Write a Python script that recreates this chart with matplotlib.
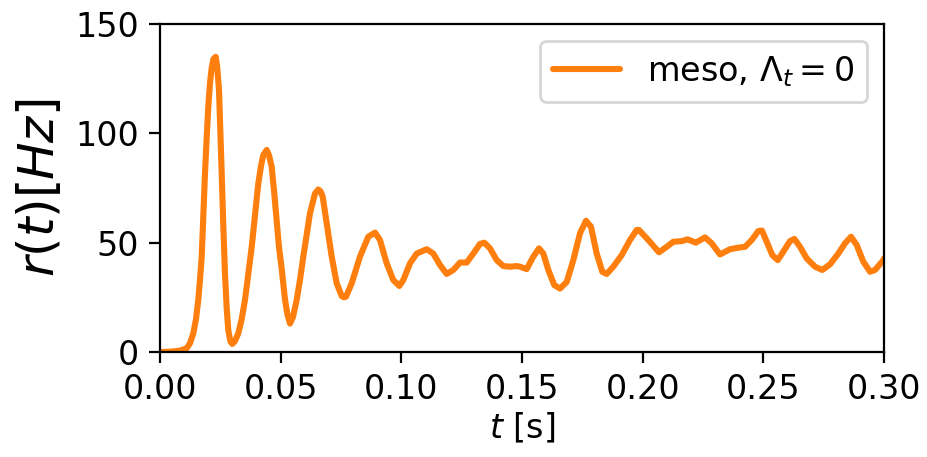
import numpy as np
import matplotlib
matplotlib.use('Agg')
import matplotlib.pyplot as plt

# population rate of the mesoscopic model, Lambda_t = 0
t = [0.0, 0.00414, 0.00829, 0.01106, 0.01243, 0.0138, 0.01492, 0.01587, 0.01657, 0.01728,
     0.01794, 0.01865, 0.01935, 0.02001, 0.02072, 0.02142, 0.02217, 0.02308, 0.02374, 0.02445,
     0.02499, 0.02557, 0.02623, 0.02693, 0.02764, 0.0283, 0.02913, 0.02996, 0.03108, 0.03244,
     0.03385, 0.03522, 0.038, 0.04073, 0.04185, 0.0428, 0.04421, 0.04517, 0.04628, 0.04724,
     0.04836, 0.04931, 0.05043, 0.0518, 0.05283, 0.05387, 0.05511, 0.05664, 0.05801, 0.05938,
     0.06215, 0.06423, 0.0656, 0.06651, 0.06742, 0.06908, 0.07115, 0.07322, 0.07529, 0.07624,
     0.07707, 0.07943, 0.08287, 0.08631, 0.08909, 0.09116, 0.09394, 0.09667, 0.09916, 0.10082,
     0.10359, 0.10637, 0.11051, 0.11325, 0.11602, 0.1188, 0.12153, 0.12431, 0.12708, 0.12982,
     0.1326, 0.13438, 0.13674, 0.13952, 0.14225, 0.14503, 0.1478, 0.14917, 0.15195, 0.15468,
     0.15705, 0.15883, 0.1609, 0.16338, 0.16575, 0.16852, 0.17126, 0.17403, 0.17652, 0.17859,
     0.18095, 0.18327, 0.18509, 0.18783, 0.19131, 0.19475, 0.19753, 0.19848, 0.20233, 0.20677,
     0.20996, 0.21269, 0.21617, 0.21866, 0.22197, 0.22583, 0.2286, 0.23204, 0.23619, 0.23963,
     0.2424, 0.24518, 0.24791, 0.24945, 0.2514, 0.25372, 0.25596, 0.25828, 0.26105, 0.26283,
     0.2652, 0.26797, 0.27141, 0.27444, 0.27763, 0.28106, 0.28384, 0.28633, 0.28869, 0.29142,
     0.2942, 0.29627, 0.29971, 0.3]
rate = [0.0, 0.1, 0.6, 1.7, 4.0, 8.5, 15.0, 23.8, 33.0, 43.6,
        62.0, 81.7, 98.0, 112.0, 123.0, 130.0, 134.0, 135.0, 130.0, 119.8,
        102.0, 81.7, 58.0, 36.0, 20.0, 10.0, 5.0, 3.7, 5.0, 8.5,
        15.0, 23.8, 48.0, 77.0, 85.0, 90.0, 92.4, 90.0, 84.7, 74.0,
        60.0, 48.0, 38.0, 24.0, 17.0, 13.0, 16.0, 23.8, 33.0, 43.6,
        63.4, 72.5, 74.3, 73.5, 71.0, 58.8, 43.6, 31.4, 25.6, 25.0,
        25.3, 31.4, 43.6, 52.7, 54.6, 51.2, 40.5, 32.9, 30.2, 32.9,
        40.5, 45.0, 47.0, 45.0, 39.8, 35.7, 37.5, 40.9, 40.9, 45.0,
        49.4, 50.0, 47.4, 42.0, 39.3, 39.0, 39.3, 39.0, 37.9, 43.6,
        47.4, 45.0, 37.5, 30.6, 29.0, 32.0, 42.0, 54.3, 60.0, 57.3,
        45.0, 36.7, 35.7, 39.0, 44.3, 51.2, 55.8, 55.8, 51.2, 45.6,
        48.1, 50.4, 50.7, 51.5, 50.0, 52.4, 49.7, 44.6, 47.0, 47.7,
        48.1, 51.2, 55.3, 55.5, 50.4, 44.3, 42.0, 45.9, 50.7, 51.7,
        48.1, 42.8, 39.0, 37.5, 40.1, 45.0, 49.7, 52.7, 48.9, 41.3,
        36.7, 37.5, 42.0, 42.8]

xticks = [0.0, 0.05, 0.10, 0.15, 0.20, 0.25, 0.30]
yticks = [0, 50, 100, 150]

fig = plt.figure(figsize=(4.64, 2.285), dpi=200)
ax = fig.add_axes([0.1724, 0.2298, 0.7802, 0.7177])

ax.plot(t, rate, color='#ff7f0e', lw=2.2, solid_joinstyle='round',
        solid_capstyle='round', label=r'meso, $\Lambda_t = 0$')

ax.set_xlim(0, 0.3)
ax.set_ylim(0, 150)
ax.set_xticks(xticks)
ax.set_yticks(yticks)
ax.tick_params(labelsize=12, length=4)
ax.set_xlabel(r'$t$ [s]', fontsize=12, labelpad=2)
ax.set_ylabel(r'$r(t) [Hz]$', fontsize=18, labelpad=4)
ax.legend(loc='upper right', fontsize=12)

fig.savefig('out.png', dpi=200)
